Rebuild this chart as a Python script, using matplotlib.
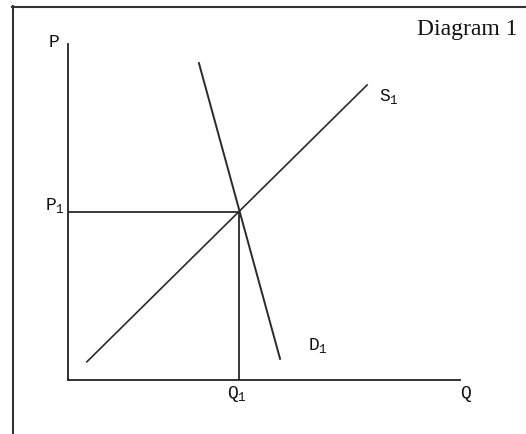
import matplotlib
matplotlib.use("Agg")
import matplotlib.pyplot as plt
from matplotlib.lines import Line2D

plt.rcParams['mathtext.fontset'] = 'custom'
plt.rcParams['mathtext.rm'] = 'Liberation Mono'

# curve end points (quantity, price on a 0-100 scale)
supply_q = [4.8, 76.3]
supply_p = [5.4, 87.8]
demand_q = [33.4, 54.1]
demand_p = [94.3, 6.3]

# equilibrium
eq_q = 43.6
eq_p = 50.0

axis_labels = ['P', 'Q']
eq_labels = ['P$_\\mathrm{1}$', 'Q$_\\mathrm{1}$']
curve_labels = ['S$_\\mathrm{1}$', 'D$_\\mathrm{1}$']
title = 'Diagram 1'

W, H = 526, 434
fig = plt.figure(figsize=(W / 100, H / 100), dpi=100)

# axes box: origin at pixel (68, 380), ends at (460, 44)
ax = fig.add_axes([68 / W, 1 - 380 / H, (460 - 68) / W, (380 - 44) / H])
ax.set_xlim(0, 100)
ax.set_ylim(0, 100)
for s in ['top', 'right']:
    ax.spines[s].set_visible(False)
for s in ['left', 'bottom']:
    ax.spines[s].set_linewidth(1.3)
    ax.spines[s].set_color('#222222')
ax.set_xticks([])
ax.set_yticks([])
ax.patch.set_alpha(0)

lc = '#2a2a2a'
ax.plot(supply_q, supply_p, color=lc, lw=1.2, clip_on=False)
ax.plot(demand_q, demand_p, color=lc, lw=1.4, clip_on=False)
ax.plot([0, eq_q], [eq_p, eq_p], color=lc, lw=1.3)
ax.plot([eq_q, eq_q], [0, eq_p], color=lc, lw=1.3)

mono = dict(family='Liberation Mono', fontsize=13, color='#111111',
            ha='center', va='center')
ax.text(-3.6, 100.3, axis_labels[0], clip_on=False, **mono)
ax.text(101.5, -3.9, axis_labels[1], clip_on=False, **mono)
ax.text(-3.3, 51.8, eq_labels[0], clip_on=False, **mono)
ax.text(43.1, -4.2, eq_labels[1], clip_on=False, **mono)
ax.text(81.9, 84.5, curve_labels[0], clip_on=False, **mono)
ax.text(63.8, 10.4, curve_labels[1], clip_on=False, **mono)

fig.text(467 / W, 1 - 29 / H, title, family='Liberation Serif', fontsize=17,
         ha='center', va='center', color='#111111')

# outer frame, cut off at the right and bottom
fig.add_artist(Line2D([12.5 / W, 12.5 / W], [0, 1 - 6 / H], transform=fig.transFigure,
                      color='#333333', lw=1.5))
fig.add_artist(Line2D([12 / W, 1], [1 - 6.5 / H, 1 - 6.5 / H], transform=fig.transFigure,
                      color='#333333', lw=1.5))

fig.savefig('out.png', dpi=100)
